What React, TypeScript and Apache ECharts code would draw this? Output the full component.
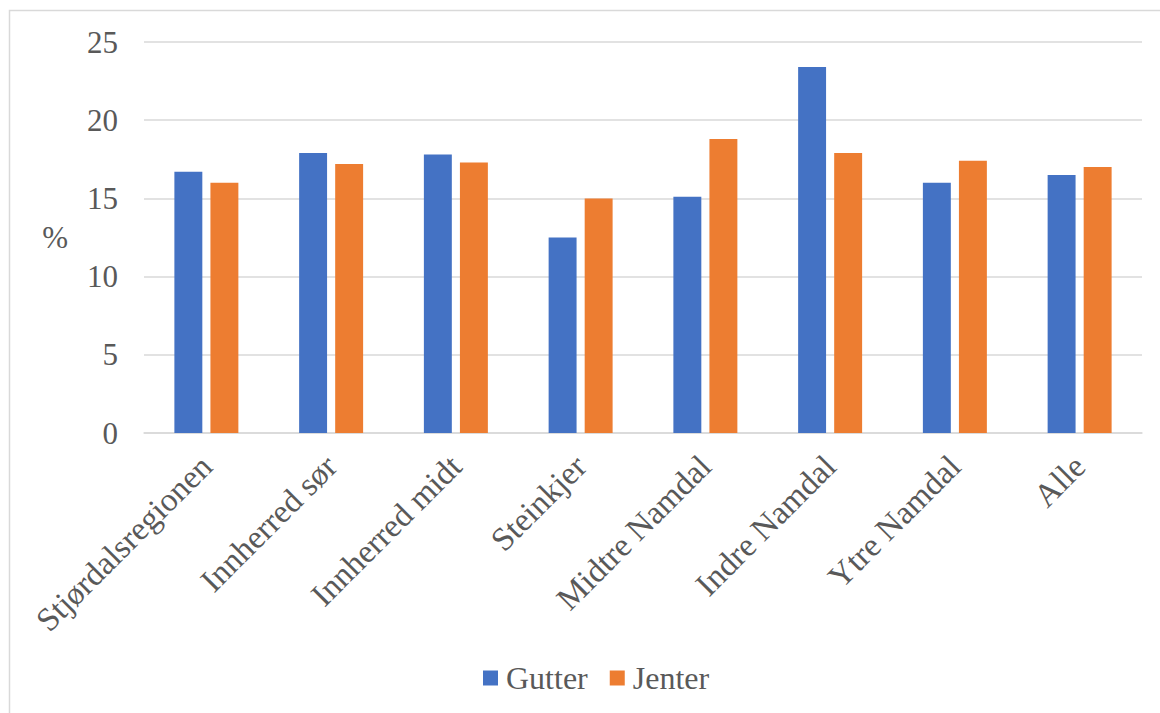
import React, { useEffect, useRef } from "react";
import * as echarts from "echarts";

const categories = [
  "Stjørdalsregionen",
  "Innherred sør",
  "Innherred midt",
  "Steinkjer",
  "Midtre Namdal",
  "Indre Namdal",
  "Ytre Namdal",
  "Alle",
];
const gutter = [16.7, 17.9, 17.8, 12.5, 15.1, 23.4, 16.0, 16.5];
const jenter = [16.0, 17.2, 17.3, 15.0, 18.8, 17.9, 17.4, 17.0];
const yTicks = { min: 0, max: 25, interval: 5 };

const FONT = "Liberation Serif";
const TEXT = "#595959";
const GRID = "#d9d9d9";

export default function App() {
  const ref = useRef<HTMLDivElement>(null);
  useEffect(() => {
    document.body.style.margin = "0";
    const chart = echarts.init(ref.current!, null, { renderer: "svg" });
    chart.setOption({
      animation: false,
      textStyle: { fontFamily: FONT },
      graphic: [
        {
          type: "rect",
          shape: { x: 9.5, y: 10.5, width: 1160, height: 720 },
          style: { fill: "none", stroke: GRID, lineWidth: 1.5 },
          silent: true,
        },
      ],
      grid: { left: 144, right: 18, top: 42, bottom: 280, containLabel: false },
      legend: {
        bottom: 14,
        left: 478,
        itemWidth: 15,
        itemHeight: 15,
        itemGap: 22,
        icon: "rect",
        textStyle: { fontFamily: FONT, fontSize: 32, color: TEXT, padding: [0, 0, 0, 3] },
        data: ["Gutter", "Jenter"],
      },
      xAxis: {
        type: "category",
        data: categories,
        axisLine: { lineStyle: { color: GRID, width: 1.5 } },
        axisTick: { show: false },
        axisLabel: {
          rotate: 45,
          margin: 28,
          interval: 0,
          fontFamily: FONT,
          fontSize: 33,
          color: TEXT,
        },
      },
      yAxis: {
        type: "value",
        min: yTicks.min,
        max: yTicks.max,
        interval: yTicks.interval,
        name: "%",
        nameLocation: "middle",
        nameRotate: 0,
        nameGap: 76,
        nameTextStyle: { fontFamily: FONT, fontSize: 31, color: TEXT },
        axisLine: { show: false },
        axisTick: { show: false },
        axisLabel: { margin: 26, fontFamily: FONT, fontSize: 31, color: TEXT },
        splitLine: { lineStyle: { color: GRID, width: 1.5 } },
      },
      series: [
        {
          name: "Gutter",
          type: "bar",
          data: gutter,
          barWidth: "22.4%",
          barGap: "29%",
          itemStyle: { color: "#4472c4" },
        },
        {
          name: "Jenter",
          type: "bar",
          data: jenter,
          barWidth: "22.4%",
          itemStyle: { color: "#ed7d31" },
        },
      ],
    });
    return () => chart.dispose();
  }, []);
  return <div ref={ref} style={{ width: 1160, height: 713 }} />;
}
